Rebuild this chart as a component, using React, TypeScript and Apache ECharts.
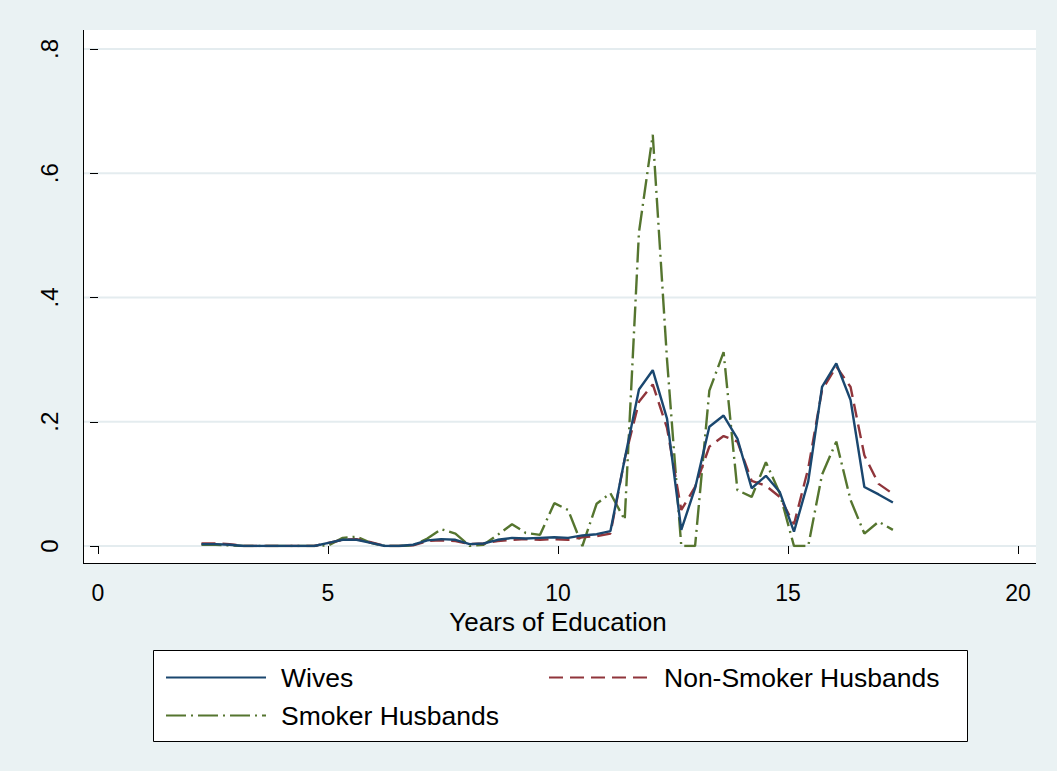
import React, { useEffect, useRef } from 'react';
import * as echarts from 'echarts';

const eduYears = [
  2.25, 2.56, 2.86, 3.17, 3.48, 3.78, 4.09, 4.40, 4.70, 5.01,
  5.32, 5.62, 5.93, 6.24, 6.54, 6.85, 7.16, 7.46, 7.77, 8.08,
  8.38, 8.69, 9.00, 9.30, 9.61, 9.92, 10.22, 10.53, 10.84, 11.14,
  11.45, 11.76, 12.06, 12.37, 12.68, 12.98, 13.29, 13.60, 13.90, 14.21,
  14.52, 14.82, 15.13, 15.44, 15.74, 16.05, 16.36, 16.66, 16.97, 17.28,
];
const wives = [
  0.003, 0.003, 0.002, 0.000, 0.000, 0.000, 0.000, 0.000, 0.000, 0.005,
  0.010, 0.010, 0.005, 0.000, 0.000, 0.002, 0.009, 0.011, 0.010, 0.003,
  0.004, 0.010, 0.013, 0.012, 0.013, 0.014, 0.013, 0.017, 0.019, 0.024,
  0.140, 0.252, 0.283, 0.205, 0.026, 0.093, 0.192, 0.210, 0.173, 0.093,
  0.113, 0.087, 0.023, 0.104, 0.256, 0.294, 0.235, 0.095, 0.083, 0.070,
];
const nonSmokerHusbands = [
  0.004, 0.004, 0.003, 0.000, 0.000, 0.000, 0.000, 0.000, 0.000, 0.005,
  0.010, 0.011, 0.006, 0.000, 0.000, 0.001, 0.008, 0.009, 0.008, 0.003,
  0.004, 0.008, 0.010, 0.011, 0.010, 0.011, 0.010, 0.014, 0.016, 0.020,
  0.140, 0.232, 0.260, 0.190, 0.058, 0.095, 0.160, 0.177, 0.168, 0.105,
  0.097, 0.079, 0.035, 0.125, 0.251, 0.289, 0.256, 0.146, 0.100, 0.084,
];
const smokerHusbands = [
  0.002, 0.002, 0.001, 0.000, 0.000, 0.000, 0.000, 0.000, 0.000, 0.001,
  0.013, 0.015, 0.005, 0.000, 0.000, 0.001, 0.012, 0.027, 0.020, 0.000,
  0.002, 0.018, 0.035, 0.021, 0.018, 0.069, 0.058, 0.000, 0.068, 0.085,
  0.042, 0.505, 0.662, 0.300, 0.000, 0.000, 0.250, 0.312, 0.090, 0.079,
  0.135, 0.085, 0.000, 0.000, 0.115, 0.168, 0.074, 0.020, 0.039, 0.026,
];
const seriesNames = ['Wives', 'Non-Smoker Husbands', 'Smoker Husbands'];
const seriesColors = ['#1A476F', '#90353B', '#55752F'];
const xTicks = [0, 5, 10, 15, 20];
const yTicks = [0, 0.2, 0.4, 0.6, 0.8];
const xTitle = 'Years of Education';

const FONT = '"Liberation Sans", Arial, Helvetica, sans-serif';

export default function App() {
  const ref = useRef<HTMLDivElement>(null);

  useEffect(() => {
    if (!ref.current) return;
    const chart = echarts.init(ref.current, null, { renderer: 'svg' });
    const pair = (ys: number[]) => eduYears.map((x, i) => [x, ys[i]]);
    const plot = { x1: 84, y1: 30, x2: 1036, y2: 563 };

    const legendCommon = {
      orient: 'horizontal',
      itemWidth: 100,
      itemHeight: 14,
      selectedMode: false,
      itemStyle: { opacity: 0 },
      textStyle: { fontSize: 26.5, color: '#000', fontFamily: FONT, padding: [0, 0, 0, 10] },
    };

    chart.setOption({
      animation: false,
      backgroundColor: '#EAF2F3',
      grid: { left: 98, right: 39, top: 49, bottom: 225 },
      xAxis: {
        type: 'value',
        min: xTicks[0],
        max: xTicks[xTicks.length - 1],
        interval: 5,
        offset: 17,
        axisLine: { show: false },
        axisTick: { show: true, length: 8, lineStyle: { color: '#000', width: 1 } },
        axisLabel: { fontSize: 23, color: '#000', fontFamily: FONT, margin: 18 },
        splitLine: { show: false },
        name: xTitle,
        nameLocation: 'middle',
        nameGap: 45,
        nameTextStyle: { fontSize: 26, color: '#000', fontFamily: FONT },
      },
      yAxis: {
        type: 'value',
        min: yTicks[0],
        max: yTicks[yTicks.length - 1],
        interval: 0.2,
        offset: 15,
        axisLine: { show: false },
        axisTick: { show: true, length: 8, lineStyle: { color: '#000', width: 1 } },
        axisLabel: {
          fontSize: 24,
          color: '#000',
          fontFamily: FONT,
          rotate: 90,
          margin: 22,
          formatter: (v: number) => (v === 0 ? '0' : '.' + Math.round(v * 10)),
        },
        splitLine: { show: false },
      },
      legend: [
        { ...legendCommon, data: [seriesNames[0]], left: 160, top: 659 },
        { ...legendCommon, data: [seriesNames[1]], left: 543, top: 659 },
        { ...legendCommon, data: [seriesNames[2]], left: 160, top: 697 },
      ],
      series: [
        {
          name: seriesNames[0], type: 'line', data: pair(wives), symbol: 'none', z: 4,
          lineStyle: { color: seriesColors[0], width: 2.4, type: 'solid' },
          itemStyle: { color: seriesColors[0] },
        },
        {
          name: seriesNames[1], type: 'line', data: pair(nonSmokerHusbands), symbol: 'none', z: 3,
          lineStyle: { color: seriesColors[1], width: 2.4, type: [14, 7] },
          itemStyle: { color: seriesColors[1] },
        },
        {
          name: seriesNames[2], type: 'line', data: pair(smokerHusbands), symbol: 'none', z: 2,
          lineStyle: { color: seriesColors[2], width: 2.4, type: [20, 5, 2, 5] },
          itemStyle: { color: seriesColors[2] },
        },
      ],
    });

    const gridLines = yTicks.map((v) => {
      const py = chart.convertToPixel({ yAxisIndex: 0 }, v) as number;
      return {
        type: 'line', z: -5, silent: true,
        shape: { x1: plot.x1, y1: py, x2: plot.x2, y2: py },
        style: { stroke: '#E4ECEF', lineWidth: 2 },
      };
    });

    chart.setOption({
      graphic: [
        {
          type: 'rect', z: -10, silent: true,
          shape: { x: plot.x1, y: plot.y1, width: plot.x2 - plot.x1, height: plot.y2 - plot.y1 },
          style: { fill: '#FFFFFF' },
        },
        ...gridLines,
        {
          type: 'line', z: 1, silent: true,
          shape: { x1: plot.x1 - 0.5, y1: plot.y1, x2: plot.x1 - 0.5, y2: plot.y2 + 0.5 },
          style: { stroke: '#000', lineWidth: 1 },
        },
        {
          type: 'line', z: 1, silent: true,
          shape: { x1: plot.x1 - 1, y1: plot.y2 + 0.5, x2: plot.x2, y2: plot.y2 + 0.5 },
          style: { stroke: '#000', lineWidth: 1 },
        },
        {
          type: 'rect', z: 1, silent: true,
          shape: { x: 153.5, y: 650.5, width: 814, height: 91 },
          style: { fill: '#FFFFFF', stroke: '#000', lineWidth: 1 },
        },
      ],
    });

    return () => chart.dispose();
  }, []);

  return (
    <div
      ref={ref}
      style={{ position: 'fixed', left: 0, top: 0, width: 1057, height: 771 }}
    />
  );
}
